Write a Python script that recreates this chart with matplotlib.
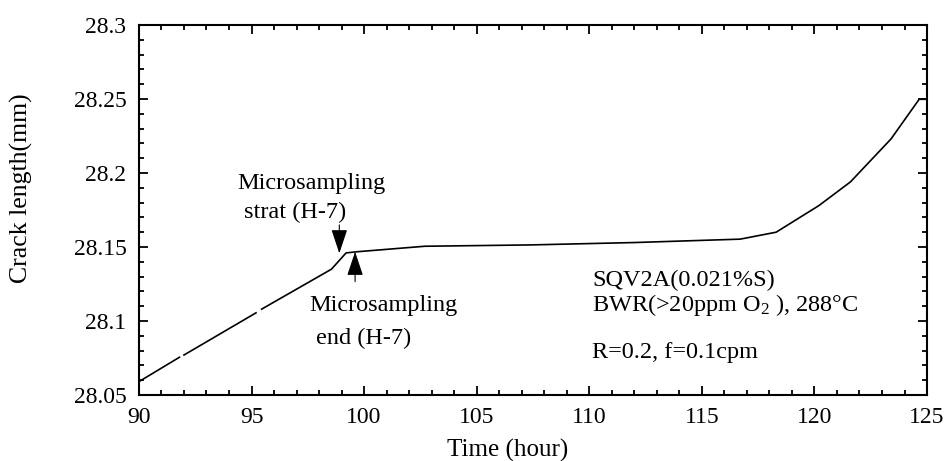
import numpy as np
import matplotlib.pyplot as plt
from matplotlib.ticker import MultipleLocator

plt.rcParams['font.family'] = ['Liberation Serif', 'DejaVu Serif']
plt.rcParams['mathtext.fontset'] = 'custom'
plt.rcParams['mathtext.rm'] = 'Liberation Serif'
plt.rcParams['mathtext.it'] = 'Liberation Serif'

# crack length record (gaps in the scanned trace kept as NaN)
time_h = [90.0, 91.8, np.nan, 92.0, 95.2, np.nan, 95.45, 98.55, 99.2, 99.7,
          102.7, 107.4, 112.0, 116.7, 118.3, 120.2, 121.6, 123.4, 124.65, 125.0]
crack_mm = [28.059, 28.0755, np.nan, 28.077, 28.1055, np.nan, 28.108, 28.135, 28.146, 28.1468,
            28.1505, 28.1514, 28.153, 28.1553, 28.160, 28.178, 28.194, 28.223, 28.2498, 28.2498]

start_arrow = (98.9, 28.1457, 28.1649)   # x, tip y, tail y
end_arrow = (99.6, 28.1468, 28.1266)

info_lines = ['SQV2A(0.021%S)', 'BWR(>20ppm O$_{2}$ ), 288\u00b0C', 'R=0.2, f=0.1cpm']

fig = plt.figure(figsize=(9.45, 4.61), dpi=100)
ax = fig.add_axes([0.147, 0.1432, 0.834, 0.8026])

ax.plot(time_h, crack_mm, color='black', lw=1.2)

ax.set_xlim(90, 125)
ax.set_ylim(28.05, 28.3)
ax.xaxis.set_major_locator(MultipleLocator(5))
ax.xaxis.set_minor_locator(MultipleLocator(1))
ax.yaxis.set_major_locator(MultipleLocator(0.05))
ax.yaxis.set_minor_locator(MultipleLocator(0.01))
ax.yaxis.set_major_formatter(plt.FuncFormatter(lambda v, p: f'{v:.2f}'.rstrip('0')))

ax.tick_params(which='both', direction='in', top=True, right=True, width=1.3)
ax.tick_params(which='major', length=6.5, labelsize=17)
ax.tick_params(axis='x', which='major', pad=9)
ax.tick_params(axis='y', which='major', pad=9)
ax.tick_params(which='minor', length=3.6)
for s in ax.spines.values():
    s.set_linewidth(1.5)

ax.set_xlabel('Time (hour)', fontsize=18)
ax.set_ylabel('Crack length(mm)', fontsize=18.5)
ax.xaxis.set_label_coords(0.468, -0.12)
ax.yaxis.set_label_coords(-0.135, 0.56)

arrow_kw = dict(arrowstyle='-|>,head_length=1.5,head_width=0.5', color='black',
                lw=0.8, mutation_scale=10, shrinkA=0, shrinkB=0)
ax.annotate('', xy=(start_arrow[0], start_arrow[1]), xytext=(start_arrow[0], start_arrow[2]),
            arrowprops=arrow_kw)
ax.annotate('', xy=(end_arrow[0], end_arrow[1]), xytext=(end_arrow[0], end_arrow[2]),
            arrowprops=arrow_kw)

ax.text(97.67, 28.193, 'Microsampling', fontsize=17.5, ha='center', va='center')
ax.text(96.95, 28.173, 'strat (H-7)', fontsize=17.5, ha='center', va='center')
ax.text(100.84, 28.1108, 'Microsampling', fontsize=17.5, ha='center', va='center')
ax.text(99.97, 28.0885, 'end (H-7)', fontsize=17.5, ha='center', va='center')

ax.text(110.12, 28.1277, info_lines[0], fontsize=17.5, ha='left', va='center')
ax.text(110.12, 28.1108, info_lines[1], fontsize=17.5, ha='left', va='center')
ax.text(110.12, 28.0784, info_lines[2], fontsize=17.5, ha='left', va='center')

plt.savefig('out.png', dpi=100)
